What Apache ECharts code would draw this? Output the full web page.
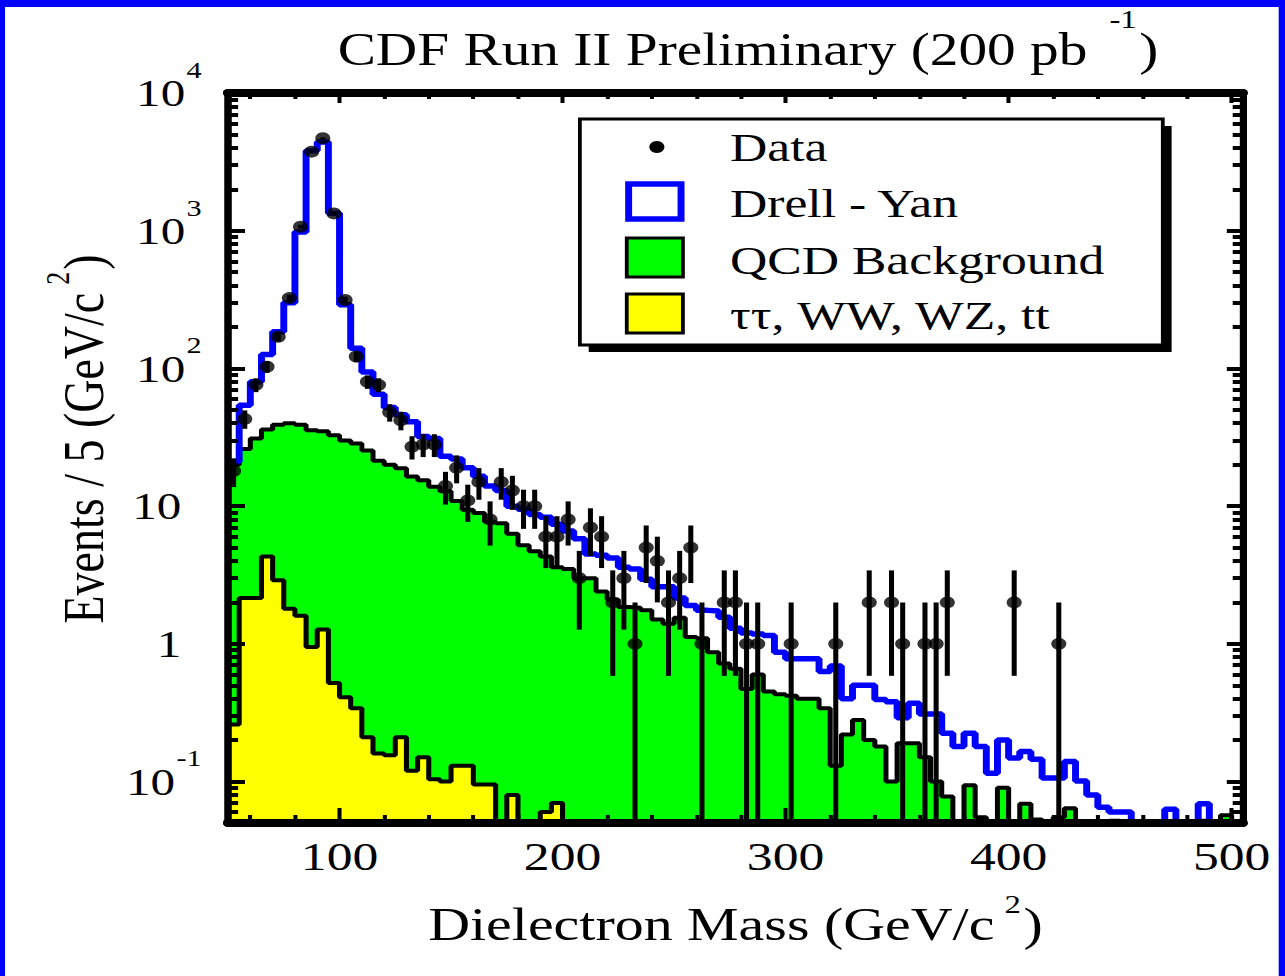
<!DOCTYPE html>
<html>
<head>
<meta charset="utf-8">
<title>CDF Run II Preliminary - Dielectron Mass</title>
<script src="https://cdn.jsdelivr.net/npm/echarts@6.0.0/dist/echarts.min.js"></script>
<style>
  html, body { margin: 0; padding: 0; background: #fff; overflow: hidden; }
  /* the figure is laid out on a 1020 px wide canvas and widened to the page */
  #chart { width: 1020px; height: 976px; transform: scaleX(1.2598); transform-origin: 0 0; }
</style>
</head>
<body>
<div id="chart"></div>
<script>
// 5 GeV/c^2 bins from 50 to 505 GeV/c^2
const BIN_START = 50;
const BIN_WIDTH = 5;

// observed events per bin
const dataCounts = [
  18, 43, 76, 103, 170, 324, 1070, 3750, 4690, 1336,
  314, 122, 80, 76, 48, 42, 27, 28, 28, 14,
  19, 11, 15, 8, 15, 13, 10, 10, 6, 6,
  8, 3, 7, 6, 2, 3, 1, 5, 4, 2,
  3, 5, 1, 0, 2, 2, 1, 1, 0, 0,
  1, 0, 0, 0, 1, 0, 0, 2, 0, 2,
  1, 0, 1, 1, 2, 0, 0, 0, 0, 0,
  2, 0, 0, 0, 1, 0, 0, 0, 0, 0,
  0, 0, 0, 0, 0, 0, 0, 0, 0, 0,
  0
];

// Drell-Yan stacked on the backgrounds (blue outline)
const dyStack = [
  21, 54, 80, 126, 185, 300, 980, 3800, 4400, 1340,
  290, 140, 94, 65, 52, 46, 41, 32, 31, 23,
  22, 19, 16.5, 14, 13, 10, 9.5, 8.7, 8.3, 7.4,
  6.6, 5.8, 4.5, 4.4, 4.2, 3.6, 3.5, 2.95, 2.6, 2.6,
  2.15, 1.9, 1.75, 1.73, 1.56, 1.3, 1.2, 1.18, 1.15, 0.87,
  0.78, 0.78, 0.78, 0.63, 0.69, 0.4, 0.5, 0.5, 0.395, 0.38,
  0.29, 0.37, 0.31, 0.31, 0.224, 0.18, 0.224, 0.18, 0.115, 0.2,
  0.148, 0.165, 0.145, 0.106, 0.106, 0.14, 0.101, 0.08, 0.065, 0.06,
  0.06, 0.045, 0.045, 0.045, 0.063, 0.045, 0.045, 0.069, 0.045, 0.045,
  0.045
];

// QCD background stacked on the other backgrounds (green)
const qcdStack = [
  20, 26, 31, 36, 39, 40, 39, 35.5, 35, 32.7,
  30, 28.5, 25.3, 21.4, 20, 18.8, 16.4, 15.4, 13.8, 12.8,
  10.9, 9.4, 8.9, 7.7, 7.5, 6.3, 5.2, 4.7, 4.3, 3.6,
  3.5, 3.0, 3.0, 2.4, 2.1, 1.85, 1.83, 1.75, 1.5, 1.4,
  1.55, 1.12, 1.1, 0.87, 0.72, 0.66, 0.47, 0.6, 0.45, 0.43,
  0.42, 0.4, 0.4, 0.34, 0.13, 0.22, 0.28, 0.2, 0.18, 0.1,
  0.19, 0.19, 0.15, 0.1, 0.078, 0, 0.094, 0.055, 0, 0.09,
  0, 0.069, 0.053, 0, 0.055, 0.064, 0, 0, 0, 0.052,
  0, 0, 0, 0, 0, 0, 0, 0.052, 0, 0.057,
  0
];

// tau tau, WW, WZ, ttbar (yellow)
const otherBkg = [
  0.26, 2.15, 2.15, 4.3, 2.9, 1.8, 1.6, 0.95, 1.27, 0.52,
  0.41, 0.34, 0.21, 0.16, 0.155, 0.21, 0.12, 0.15, 0.104, 0.1,
  0.13, 0.13, 0.095, 0.095, 0, 0.08, 0, 0, 0.06, 0.07,
  0, 0, 0, 0, 0, 0, 0, 0, 0, 0,
  0, 0, 0, 0, 0, 0, 0, 0, 0, 0,
  0, 0, 0, 0, 0, 0, 0, 0, 0, 0,
  0, 0, 0, 0, 0, 0, 0, 0, 0, 0,
  0, 0, 0, 0, 0, 0, 0, 0, 0, 0,
  0, 0, 0, 0, 0, 0, 0, 0, 0, 0,
  0
];

// axis ticks and labels
const X_MIN = 50, X_MAX = 505;
const Y_MIN = 0.05, Y_MAX = 10000;
const xTickValues = [100, 200, 300, 400, 500];
const xTickLabels = ['100', '200', '300', '400', '500'];
const xMinorTicks = [60, 80, 120, 140, 160, 180, 220, 240, 260, 280,
                     320, 340, 360, 380, 420, 440, 460, 480];
const yTickValues = [0.1, 1, 10, 100, 1000, 10000];
const yTickBase = ['10', '1', '10', '10', '10', '10'];
const yTickExp = ['-1', '', '', '2', '3', '4'];
const yMinorTicks = [];
[0.01, 0.1, 1, 10, 100, 1000].forEach(decade => {
  for (let m = 2; m <= 9; m++) {
    const v = +(m * decade).toPrecision(3);
    if (v > Y_MIN && v < Y_MAX) yMinorTicks.push(v);
  }
});

const SERIF = "'Liberation Serif', 'Times New Roman', serif";
const FLOOR = 1e-3; // empty bins fall below the visible range

// step outline points: one point per lower bin edge plus the closing edge
function stepPoints(values) {
  const pts = values.map((v, i) => [BIN_START + BIN_WIDTH * i, v > 0 ? v : FLOOR]);
  const last = values[values.length - 1];
  pts.push([BIN_START + BIN_WIDTH * values.length, last > 0 ? last : FLOOR]);
  return pts;
}
const binCenter = i => BIN_START + BIN_WIDTH * (i + 0.5);

const dataPoints = [];
const errorBars = [];
dataCounts.forEach((n, i) => {
  if (n > 0) {
    const e = Math.sqrt(n);
    dataPoints.push([binCenter(i), n]);
    errorBars.push([binCenter(i), Math.max(n - e, Y_MIN), n + e]);
  }
});

const tickLine = { color: '#000', width: 3.2 };

function xAxisDef(position, values, length, extra) {
  return Object.assign({
    type: 'value', min: X_MIN, max: X_MAX, position: position, offset: 0, z: 10,
    axisLine: { show: true, onZero: false, lineStyle: { color: '#000', width: 8 } },
    axisTick: { show: true, inside: true, length: length, customValues: values, lineStyle: tickLine },
    axisLabel: { show: false },
    splitLine: { show: false }
  }, extra || {});
}
function yAxisDef(position, values, length, extra) {
  return Object.assign({
    type: 'log', logBase: 10, min: Y_MIN, max: Y_MAX, position: position, offset: 0, z: 10,
    axisLine: { show: true, onZero: false, lineStyle: { color: '#000', width: 5.6 } },
    axisTick: { show: true, inside: true, length: length, customValues: values,
                lineStyle: { color: '#000', width: 4 } },
    axisLabel: { show: false },
    splitLine: { show: false }
  }, extra || {});
}

const nameRich = {
  n: { fontFamily: SERIF, fontSize: 46, color: '#000', lineHeight: 46, padding: [20, 0, 0, 0] },
  s: { fontFamily: SERIF, fontSize: 26, color: '#000', lineHeight: 26, verticalAlign: 'top', padding: [0, 2, 0, 8] }
};

const option = {
  animation: false,
  backgroundColor: '#fff',
  grid: { left: 181, right: 33.5, top: 93, bottom: 153, containLabel: false },
  xAxis: [
    xAxisDef('bottom', xTickValues, 15, {
      axisLabel: {
        show: true, customValues: xTickValues, margin: 12,
        formatter: v => xTickLabels[xTickValues.indexOf(v)],
        fontFamily: SERIF, fontSize: 41, color: '#000'
      },
      name: '{n|Dielectron Mass (GeV/c}{s|2}{n|)}',
      nameLocation: 'middle', nameGap: 56,
      nameTextStyle: { rich: nameRich }
    }),
    xAxisDef('bottom', xMinorTicks, 8),
    xAxisDef('top', xTickValues, 10),
    xAxisDef('top', xMinorTicks, 6)
  ],
  yAxis: [
    yAxisDef('left', yTickValues, 13.5, {
      axisLabel: {
        show: true, customValues: yTickValues, margin: 21,
        formatter: v => {
          const k = yTickValues.findIndex(t => Math.abs(t - v) / t < 1e-6);
          if (k < 0) return '';
          return yTickExp[k]
            ? '{bp|' + yTickBase[k] + '}{s|' + yTickExp[k] + '}'
            : '{b|' + yTickBase[k] + '}';
        },
        rich: {
          b: { fontFamily: SERIF, fontSize: 39, color: '#000', lineHeight: 39, padding: [0, 16, 0, 0] },
          bp: { fontFamily: SERIF, fontSize: 39, color: '#000', lineHeight: 70 },
          s: { fontFamily: SERIF, fontSize: 24, color: '#000', lineHeight: 24, verticalAlign: 'top', padding: [0, 0, 0, 1] }
        }
      },
      name: '{n|Events / 5 (GeV/c}{s|2}{n|)}',
      nameLocation: 'middle', nameGap: 89, nameRotate: 90,
      nameTextStyle: { rich: nameRich, padding: [0, 0, 0, 38] }
    }),
    yAxisDef('left', yMinorTicks, 8),
    yAxisDef('right', yTickValues, 12.7),
    yAxisDef('right', yMinorTicks, 8)
  ],
  series: [
    {
      name: 'QCD Background', type: 'line', step: 'end', data: stepPoints(qcdStack),
      symbol: 'none', clip: true, z: 2, silent: true,
      lineStyle: { color: '#000', width: 4 },
      areaStyle: { color: '#00ff00', opacity: 1, origin: 'start' }
    },
    {
      name: 'other', type: 'line', step: 'end', data: stepPoints(otherBkg),
      symbol: 'none', clip: true, z: 3, silent: true,
      lineStyle: { color: '#000', width: 4 },
      areaStyle: { color: '#ffff00', opacity: 1, origin: 'start' }
    },
    {
      name: 'Drell - Yan', type: 'line', step: 'end', data: stepPoints(dyStack),
      symbol: 'none', clip: true, z: 4, silent: true,
      lineStyle: { color: '#0000ff', width: 5.5 }
    },
    {
      name: 'Data errors', type: 'custom', data: errorBars, z: 5, silent: true,
      encode: { x: 0, y: [1, 2] },
      renderItem: (params, api) => {
        const x = api.value(0);
        const top = api.coord([x, api.value(2)]);
        const bottom = api.coord([x, api.value(1)]);
        return {
          type: 'line',
          shape: { x1: top[0], y1: top[1], x2: bottom[0], y2: bottom[1] },
          style: { stroke: '#000', lineWidth: 4 }
        };
      }
    },
    {
      name: 'Data', type: 'scatter', data: dataPoints, z: 6, silent: true,
      symbol: 'circle', symbolSize: 12, clip: true,
      itemStyle: { color: '#000' }
    }
  ],
  graphic: [
    // blue page border
    { type: 'rect', shape: { x: 0, y: 0, width: 1020, height: 7 }, style: { fill: '#0000ff' }, z: 100 },
    { type: 'rect', shape: { x: 0, y: 0, width: 4, height: 976 }, style: { fill: '#0000ff' }, z: 100 },
    { type: 'rect', shape: { x: 1015, y: 0, width: 5, height: 976 }, style: { fill: '#0000ff' }, z: 100 },
    // title
    {
      type: 'text', left: 268, top: 6, z: 100,
      style: {
        text: '{t|CDF Run II Preliminary (200 pb }{s|-1}{t|)}',
        rich: {
          t: { fontFamily: SERIF, fontSize: 45.5, fill: '#000', lineHeight: 88 },
          s: { fontFamily: SERIF, fontSize: 26, fill: '#000', lineHeight: 26, verticalAlign: 'top', padding: [0, 2, 0, 6] }
        }
      }
    },
    // legend box with drop shadow
    { type: 'rect', shape: { x: 467.3, y: 126, width: 462.7, height: 226 }, style: { fill: '#000' }, z: 100 },
    { type: 'rect', shape: { x: 460.3, y: 119, width: 462.7, height: 226 },
      style: { fill: '#fff', stroke: '#000', lineWidth: 3 }, z: 101 },
    { type: 'circle', shape: { cx: 521.4, cy: 147, r: 6 }, style: { fill: '#000' }, z: 102 },
    { type: 'rect', shape: { x: 499, y: 184, width: 41.6, height: 35 },
      style: { fill: '#fff', stroke: '#0000ff', lineWidth: 5.5 }, z: 102 },
    { type: 'rect', shape: { x: 497.5, y: 238, width: 44.6, height: 39 },
      style: { fill: '#00ff00', stroke: '#000', lineWidth: 3 }, z: 102 },
    { type: 'rect', shape: { x: 497.5, y: 294, width: 44.6, height: 39 },
      style: { fill: '#ffff00', stroke: '#000', lineWidth: 3 }, z: 102 },
    { type: 'text', x: 579.4, y: 147, z: 102,
      style: { text: 'Data', fontFamily: SERIF, fontSize: 41, fill: '#000', verticalAlign: 'middle' } },
    { type: 'text', x: 579.4, y: 203, z: 102,
      style: { text: 'Drell - Yan', fontFamily: SERIF, fontSize: 41, fill: '#000', verticalAlign: 'middle' } },
    { type: 'text', x: 579.4, y: 260, z: 102,
      style: { text: 'QCD Background', fontFamily: SERIF, fontSize: 41, fill: '#000', verticalAlign: 'middle' } },
    { type: 'text', x: 579.4, y: 315, z: 102,
      style: { text: '\u03c4\u03c4, WW, WZ, tt', fontFamily: SERIF, fontSize: 41, fill: '#000', verticalAlign: 'middle' } }
  ]
};

const chart = echarts.init(document.getElementById('chart'), null, { renderer: 'svg' });
chart.setOption(option);
</script>
</body>
</html>
